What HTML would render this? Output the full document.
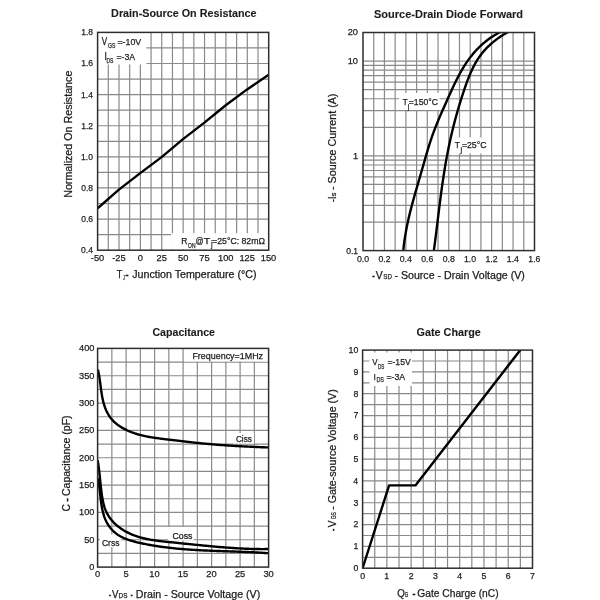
<!DOCTYPE html>
<html><head><meta charset="utf-8"><style>html,body{margin:0;padding:0;background:#fff;width:600px;height:600px;overflow:hidden}text{font-family:"Liberation Sans", sans-serif;stroke:#1c1c1c;stroke-width:0.25px}text[font-weight=bold]{stroke-width:0.1px}</style></head>
<body><svg width="600" height="600" viewBox="0 0 600 600" style="display:block;filter:blur(0.35px);font-family:'Liberation Sans', sans-serif" fill="#1c1c1c"><path stroke="#8a8a8a" stroke-width="1.2" fill="none" d="M108.29 32.4V250.2M118.99 32.4V250.2M129.68 32.4V250.2M140.38 32.4V250.2M151.07 32.4V250.2M161.76 32.4V250.2M172.46 32.4V250.2M183.15 32.4V250.2M193.84 32.4V250.2M204.54 32.4V250.2M215.23 32.4V250.2M225.92 32.4V250.2M236.62 32.4V250.2M247.31 32.4V250.2M258.01 32.4V250.2M97.6 47.96H268.7M97.6 63.51H268.7M97.6 79.07H268.7M97.6 94.63H268.7M97.6 110.19H268.7M97.6 125.74H268.7M97.6 141.30H268.7M97.6 156.86H268.7M97.6 172.41H268.7M97.6 187.97H268.7M97.6 203.53H268.7M97.6 219.09H268.7M97.6 234.64H268.7"/>
<rect x="98.3" y="33.1" width="48.20" height="31.40" fill="#fff"/>
<rect x="171.2" y="233.2" width="96.80" height="16.30" fill="#fff"/>
<clipPath id="c1"><rect x="97.6" y="32.4" width="171.1" height="217.79999999999998"/></clipPath>
<g clip-path="url(#c1)"><path fill="none" stroke="#000" stroke-width="2.4" stroke-linejoin="round" d="M97.60,208.30 L118.90,189.60 L140.25,173.10 L161.60,157.10 L183.00,139.10 L204.40,122.60 L225.75,105.20 L247.10,89.40 L268.70,74.80"/></g>
<rect x="97.6" y="32.4" width="171.10" height="217.80" fill="none" stroke="#2e2e2e" stroke-width="1.5"/>
<text x="111.13" y="17.20" font-size="10.6" font-weight="bold" textLength="145.39" lengthAdjust="spacingAndGlyphs">Drain-Source On Resistance</text>
<text x="81.03" y="253.10" font-size="9.7" font-weight="normal" textLength="11.87" lengthAdjust="spacingAndGlyphs">0.4</text>
<text x="81.16" y="221.99" font-size="9.7" font-weight="normal" textLength="11.87" lengthAdjust="spacingAndGlyphs">0.6</text>
<text x="81.15" y="190.87" font-size="9.7" font-weight="normal" textLength="11.87" lengthAdjust="spacingAndGlyphs">0.8</text>
<text x="81.12" y="159.76" font-size="9.7" font-weight="normal" textLength="11.87" lengthAdjust="spacingAndGlyphs">1.0</text>
<text x="81.21" y="128.64" font-size="9.7" font-weight="normal" textLength="11.87" lengthAdjust="spacingAndGlyphs">1.2</text>
<text x="81.03" y="97.53" font-size="9.7" font-weight="normal" textLength="11.87" lengthAdjust="spacingAndGlyphs">1.4</text>
<text x="81.16" y="66.41" font-size="9.7" font-weight="normal" textLength="11.87" lengthAdjust="spacingAndGlyphs">1.6</text>
<text x="81.15" y="35.30" font-size="9.7" font-weight="normal" textLength="11.87" lengthAdjust="spacingAndGlyphs">1.8</text>
<text x="90.85" y="260.90" font-size="9.8" font-weight="normal" textLength="13.46" lengthAdjust="spacingAndGlyphs">-50</text>
<text x="112.25" y="260.90" font-size="9.8" font-weight="normal" textLength="13.46" lengthAdjust="spacingAndGlyphs">-25</text>
<text x="137.79" y="260.90" font-size="9.8" font-weight="normal" textLength="5.18" lengthAdjust="spacingAndGlyphs">0</text>
<text x="156.55" y="260.90" font-size="9.8" font-weight="normal" textLength="10.36" lengthAdjust="spacingAndGlyphs">25</text>
<text x="177.97" y="260.90" font-size="9.8" font-weight="normal" textLength="10.36" lengthAdjust="spacingAndGlyphs">50</text>
<text x="199.32" y="260.90" font-size="9.8" font-weight="normal" textLength="10.36" lengthAdjust="spacingAndGlyphs">75</text>
<text x="217.99" y="260.90" font-size="9.8" font-weight="normal" textLength="15.53" lengthAdjust="spacingAndGlyphs">100</text>
<text x="239.39" y="260.90" font-size="9.8" font-weight="normal" textLength="15.53" lengthAdjust="spacingAndGlyphs">125</text>
<text x="260.76" y="260.90" font-size="9.8" font-weight="normal" textLength="15.53" lengthAdjust="spacingAndGlyphs">150</text>
<text transform="translate(71.70,196.95) rotate(-90)" x="-0.88" y="0" font-size="10.4" font-weight="normal" textLength="127.20" lengthAdjust="spacingAndGlyphs">Normalized On Resistance</text>
<text x="116.75" y="277.80" font-size="10.4" font-weight="normal" textLength="5.51" lengthAdjust="spacingAndGlyphs">T</text>
<text x="123.09" y="280.20" font-size="7" font-weight="normal" textLength="1.83" lengthAdjust="spacingAndGlyphs">J</text>
<text x="125.23" y="277.80" font-size="10.4" font-weight="bold" textLength="3.54" lengthAdjust="spacingAndGlyphs">-</text>
<text x="132.19" y="277.80" font-size="10.4" font-weight="normal" textLength="124.37" lengthAdjust="spacingAndGlyphs">Junction Temperature (°C)</text>
<text x="101.81" y="45.00" font-size="10" font-weight="normal" textLength="5.37" lengthAdjust="spacingAndGlyphs">V</text>
<text x="108.10" y="48.20" font-size="6.8" font-weight="normal" textLength="7.29" lengthAdjust="spacingAndGlyphs">GS</text>
<text x="117.42" y="45.00" font-size="9.8" font-weight="normal" textLength="23.77" lengthAdjust="spacingAndGlyphs">=-10V</text>
<text x="104.56" y="60.00" font-size="10.2" font-weight="normal" textLength="2.38" lengthAdjust="spacingAndGlyphs">I</text>
<text x="106.44" y="62.80" font-size="6.8" font-weight="normal" textLength="6.94" lengthAdjust="spacingAndGlyphs">DS</text>
<text x="116.42" y="60.00" font-size="9.8" font-weight="normal" textLength="18.74" lengthAdjust="spacingAndGlyphs">=-3A</text>
<text x="181.35" y="243.80" font-size="9.4" font-weight="normal" textLength="6.20" lengthAdjust="spacingAndGlyphs">R</text>
<text x="188.12" y="247.80" font-size="6.8" font-weight="normal" textLength="7.33" lengthAdjust="spacingAndGlyphs">ON</text>
<text x="195.52" y="243.80" font-size="9.4" font-weight="normal" textLength="8.12" lengthAdjust="spacingAndGlyphs">@</text>
<text x="203.86" y="243.80" font-size="9.4" font-weight="normal" textLength="6.43" lengthAdjust="spacingAndGlyphs">T</text>
<text x="210.93" y="246.60" font-size="9.4" font-weight="normal" textLength="1.61" lengthAdjust="spacingAndGlyphs">j</text>
<text x="212.12" y="243.80" font-size="9.4" font-weight="normal" textLength="52.90" lengthAdjust="spacingAndGlyphs">=25°C: 82mΩ</text>
<path stroke="#8a8a8a" stroke-width="1.2" fill="none" d="M373.72 32.5V250.6M384.44 32.5V250.6M395.16 32.5V250.6M405.88 32.5V250.6M416.59 32.5V250.6M427.31 32.5V250.6M438.03 32.5V250.6M448.75 32.5V250.6M459.47 32.5V250.6M470.19 32.5V250.6M480.91 32.5V250.6M491.62 32.5V250.6M502.34 32.5V250.6M513.06 32.5V250.6M523.78 32.5V250.6M363 222.07H534.5M363 205.38H534.5M363 193.53H534.5M363 184.35H534.5M363 176.84H534.5M363 170.50H534.5M363 165.00H534.5M363 160.15H534.5M363 155.82H534.5M363 127.28H534.5M363 110.59H534.5M363 98.75H534.5M363 89.57H534.5M363 82.06H534.5M363 75.71H534.5M363 70.22H534.5M363 65.37H534.5M363 61.03H534.5"/>
<rect x="399" y="93" width="40.50" height="17.00" fill="#fff"/>
<rect x="452" y="137.5" width="38.00" height="16.00" fill="#fff"/>
<clipPath id="c2"><rect x="363" y="32.5" width="171.5" height="218.1"/></clipPath>
<g clip-path="url(#c2)"><path fill="none" stroke="#000" stroke-width="2.4" stroke-linejoin="round" d="M403.34,250.21 L403.46,248.97 L403.59,247.72 L403.72,246.47 L403.86,245.23 L404.01,243.99 L404.17,242.75 L404.34,241.52 L404.51,240.28 L404.69,239.05 L404.87,237.82 L405.06,236.59 L405.26,235.36 L405.47,234.13 L405.68,232.91 L405.89,231.68 L406.12,230.46 L406.35,229.24 L406.58,228.02 L406.82,226.80 L407.07,225.58 L407.32,224.37 L407.58,223.15 L407.84,221.94 L408.10,220.73 L408.37,219.52 L408.65,218.31 L408.93,217.10 L409.21,215.89 L409.50,214.68 L409.79,213.48 L410.09,212.27 L410.39,211.07 L410.69,209.86 L411.00,208.66 L411.31,207.46 L411.63,206.26 L411.94,205.06 L412.26,203.86 L412.58,202.66 L412.91,201.46 L413.24,200.26 L413.57,199.07 L413.90,197.87 L414.23,196.67 L414.57,195.48 L414.91,194.28 L415.25,193.09 L415.59,191.89 L415.93,190.70 L416.27,189.50 L416.62,188.31 L416.96,187.12 L417.31,185.92 L417.66,184.73 L418.00,183.53 L418.35,182.34 L418.70,181.15 L419.05,179.95 L419.40,178.76 L419.75,177.57 L420.09,176.37 L420.44,175.18 L420.79,173.98 L421.13,172.79 L421.48,171.59 L421.82,170.40 L422.16,169.20 L422.51,168.01 L422.85,166.81 L423.19,165.61 L423.53,164.42 L423.87,163.22 L424.21,162.03 L424.55,160.83 L424.89,159.63 L425.23,158.44 L425.57,157.24 L425.92,156.05 L426.27,154.86 L426.61,153.67 L426.96,152.47 L427.32,151.28 L427.67,150.09 L428.03,148.91 L428.39,147.72 L428.76,146.53 L429.12,145.35 L429.50,144.17 L429.87,142.99 L430.25,141.81 L430.64,140.63 L431.03,139.46 L431.43,138.29 L431.83,137.12 L432.23,135.95 L432.65,134.78 L433.06,133.62 L433.49,132.46 L433.92,131.30 L434.35,130.14 L434.79,128.99 L435.24,127.84 L435.69,126.69 L436.15,125.54 L436.60,124.39 L437.07,123.24 L437.54,122.10 L438.01,120.96 L438.49,119.82 L438.97,118.68 L439.45,117.54 L439.93,116.40 L440.42,115.26 L440.92,114.13 L441.41,112.99 L441.91,111.85 L442.41,110.72 L442.91,109.58 L443.41,108.45 L443.92,107.31 L444.42,106.18 L444.93,105.05 L445.44,103.91 L445.95,102.77 L446.46,101.64 L446.97,100.50 L447.48,99.36 L447.99,98.22 L448.50,97.08 L449.01,95.95 L449.52,94.81 L450.04,93.67 L450.56,92.53 L451.07,91.39 L451.59,90.25 L452.12,89.12 L452.64,87.98 L453.17,86.85 L453.71,85.72 L454.24,84.59 L454.78,83.46 L455.33,82.34 L455.88,81.22 L456.43,80.10 L457.00,78.99 L457.56,77.88 L458.14,76.77 L458.71,75.67 L459.30,74.57 L459.89,73.48 L460.49,72.40 L461.10,71.31 L461.72,70.24 L462.34,69.17 L462.98,68.10 L463.62,67.05 L464.27,65.99 L464.93,64.95 L465.60,63.91 L466.28,62.88 L466.97,61.86 L467.67,60.85 L468.39,59.84 L469.11,58.84 L469.85,57.85 L470.59,56.87 L471.35,55.90 L472.13,54.94 L472.91,53.99 L473.71,53.05 L474.52,52.11 L475.35,51.19 L476.19,50.28 L477.04,49.38 L477.90,48.49 L478.77,47.62 L479.66,46.75 L480.56,45.90 L481.47,45.05 L482.40,44.22 L483.33,43.41 L484.28,42.60 L485.24,41.81 L486.21,41.03 L487.19,40.27 L488.19,39.52 L489.19,38.78 L490.21,38.05 L491.24,37.35 L492.28,36.65 L493.33,35.97 L494.39,35.31 L495.47,34.66 L496.55,34.02 L497.65,33.41 L498.75,32.80 L499.87,32.22 L501.00,31.65 L502.13,31.10"/><path fill="none" stroke="#000" stroke-width="2.4" stroke-linejoin="round" d="M433.93,250.17 L434.09,248.99 L434.25,247.80 L434.41,246.61 L434.56,245.42 L434.72,244.23 L434.87,243.04 L435.03,241.85 L435.18,240.66 L435.33,239.47 L435.49,238.28 L435.64,237.09 L435.79,235.89 L435.94,234.70 L436.09,233.51 L436.23,232.31 L436.38,231.12 L436.53,229.93 L436.68,228.73 L436.82,227.54 L436.97,226.34 L437.12,225.14 L437.26,223.95 L437.41,222.75 L437.56,221.55 L437.70,220.36 L437.85,219.16 L438.00,217.96 L438.14,216.77 L438.29,215.57 L438.44,214.37 L438.58,213.17 L438.73,211.98 L438.88,210.78 L439.03,209.58 L439.18,208.38 L439.33,207.19 L439.48,205.99 L439.63,204.79 L439.78,203.59 L439.93,202.39 L440.08,201.20 L440.24,200.00 L440.39,198.80 L440.55,197.60 L440.70,196.41 L440.86,195.21 L441.02,194.01 L441.18,192.82 L441.34,191.62 L441.50,190.42 L441.67,189.23 L441.83,188.03 L442.00,186.84 L442.17,185.64 L442.34,184.45 L442.51,183.25 L442.68,182.06 L442.85,180.87 L443.03,179.67 L443.21,178.48 L443.39,177.29 L443.57,176.10 L443.75,174.90 L443.94,173.71 L444.12,172.52 L444.31,171.33 L444.50,170.14 L444.70,168.96 L444.89,167.77 L445.09,166.58 L445.29,165.39 L445.49,164.21 L445.70,163.02 L445.90,161.84 L446.11,160.65 L446.33,159.47 L446.54,158.28 L446.76,157.10 L446.98,155.92 L447.20,154.74 L447.43,153.56 L447.66,152.38 L447.89,151.20 L448.12,150.03 L448.36,148.85 L448.60,147.67 L448.84,146.50 L449.09,145.32 L449.33,144.15 L449.58,142.98 L449.84,141.80 L450.09,140.63 L450.35,139.46 L450.62,138.29 L450.88,137.12 L451.15,135.95 L451.42,134.78 L451.69,133.61 L451.97,132.45 L452.25,131.28 L452.53,130.11 L452.82,128.95 L453.10,127.78 L453.39,126.62 L453.69,125.45 L453.99,124.29 L454.28,123.13 L454.59,121.96 L454.89,120.80 L455.20,119.64 L455.51,118.48 L455.83,117.32 L456.15,116.16 L456.47,115.00 L456.79,113.84 L457.12,112.68 L457.44,111.52 L457.78,110.37 L458.11,109.21 L458.45,108.05 L458.79,106.90 L459.14,105.74 L459.48,104.59 L459.83,103.43 L460.19,102.28 L460.54,101.12 L460.90,99.97 L461.27,98.81 L461.63,97.66 L462.00,96.51 L462.37,95.36 L462.75,94.20 L463.13,93.05 L463.51,91.90 L463.89,90.75 L464.28,89.60 L464.67,88.45 L465.07,87.30 L465.47,86.15 L465.87,85.00 L466.28,83.86 L466.69,82.71 L467.11,81.57 L467.54,80.44 L467.97,79.30 L468.41,78.17 L468.85,77.05 L469.31,75.93 L469.77,74.81 L470.25,73.70 L470.73,72.59 L471.22,71.49 L471.72,70.40 L472.23,69.31 L472.75,68.23 L473.29,67.15 L473.83,66.09 L474.39,65.03 L474.96,63.98 L475.54,62.94 L476.14,61.91 L476.75,60.89 L477.37,59.88 L478.01,58.88 L478.67,57.89 L479.34,56.91 L480.02,55.94 L480.73,54.98 L481.44,54.04 L482.18,53.11 L482.93,52.19 L483.70,51.28 L484.48,50.38 L485.28,49.50 L486.10,48.63 L486.92,47.77 L487.77,46.92 L488.62,46.08 L489.49,45.26 L490.38,44.45 L491.27,43.65 L492.18,42.86 L493.11,42.09 L494.04,41.32 L494.99,40.57 L495.95,39.83 L496.92,39.11 L497.90,38.39 L498.89,37.69 L499.89,37.00 L500.90,36.32 L501.92,35.65 L502.95,35.00 L503.99,34.35 L505.03,33.72 L506.09,33.10 L507.15,32.50 L508.23,31.90 L509.31,31.32"/></g>
<rect x="363" y="32.5" width="171.50" height="218.10" fill="none" stroke="#2e2e2e" stroke-width="1.5"/>
<text x="374.03" y="17.60" font-size="10.6" font-weight="bold" textLength="149.09" lengthAdjust="spacingAndGlyphs">Source-Drain Diode Forward</text>
<text x="346.20" y="253.50" font-size="9.7" font-weight="normal" textLength="11.87" lengthAdjust="spacingAndGlyphs">0.1</text>
<text x="352.98" y="158.72" font-size="9.7" font-weight="normal" textLength="5.12" lengthAdjust="spacingAndGlyphs">1</text>
<text x="347.76" y="63.93" font-size="9.7" font-weight="normal" textLength="10.25" lengthAdjust="spacingAndGlyphs">10</text>
<text x="347.76" y="35.40" font-size="9.7" font-weight="normal" textLength="10.25" lengthAdjust="spacingAndGlyphs">20</text>
<text x="356.94" y="262.20" font-size="9.9" font-weight="normal" textLength="12.11" lengthAdjust="spacingAndGlyphs">0.0</text>
<text x="378.43" y="262.20" font-size="9.9" font-weight="normal" textLength="12.11" lengthAdjust="spacingAndGlyphs">0.2</text>
<text x="399.78" y="262.20" font-size="9.9" font-weight="normal" textLength="12.11" lengthAdjust="spacingAndGlyphs">0.4</text>
<text x="421.28" y="262.20" font-size="9.9" font-weight="normal" textLength="12.11" lengthAdjust="spacingAndGlyphs">0.6</text>
<text x="442.71" y="262.20" font-size="9.9" font-weight="normal" textLength="12.11" lengthAdjust="spacingAndGlyphs">0.8</text>
<text x="463.97" y="262.20" font-size="9.9" font-weight="normal" textLength="12.11" lengthAdjust="spacingAndGlyphs">1.0</text>
<text x="485.46" y="262.20" font-size="9.9" font-weight="normal" textLength="12.11" lengthAdjust="spacingAndGlyphs">1.2</text>
<text x="506.80" y="262.20" font-size="9.9" font-weight="normal" textLength="12.11" lengthAdjust="spacingAndGlyphs">1.4</text>
<text x="528.30" y="262.20" font-size="9.9" font-weight="normal" textLength="12.11" lengthAdjust="spacingAndGlyphs">1.6</text>
<text transform="translate(336.30,201.85) rotate(-90)" x="-0.42" y="0" font-size="10.4" font-weight="normal" textLength="5.80" lengthAdjust="spacingAndGlyphs">-I</text>
<text transform="translate(336.30,196.25) rotate(-90)" x="-0.22" y="0" font-size="7.2" font-weight="normal" textLength="3.90" lengthAdjust="spacingAndGlyphs">s</text>
<text transform="translate(336.30,189.45) rotate(-90)" x="-0.48" y="0" font-size="10.4" font-weight="normal" textLength="96.34" lengthAdjust="spacingAndGlyphs">- Source Current (A)</text>
<text x="372.00" y="278.70" font-size="10.4" font-weight="bold" textLength="3.02" lengthAdjust="spacingAndGlyphs">-</text>
<text x="375.70" y="278.70" font-size="10.4" font-weight="normal" textLength="6.99" lengthAdjust="spacingAndGlyphs">V</text>
<text x="383.37" y="278.70" font-size="6.8" font-weight="normal" textLength="8.58" lengthAdjust="spacingAndGlyphs">SD</text>
<text x="394.48" y="278.70" font-size="10.4" font-weight="normal" textLength="130.32" lengthAdjust="spacingAndGlyphs">- Source - Drain Voltage (V)</text>
<text x="402.67" y="105.00" font-size="9.8" font-weight="normal" textLength="4.86" lengthAdjust="spacingAndGlyphs">T</text>
<text x="407.71" y="109.00" font-size="7" font-weight="normal" textLength="1.49" lengthAdjust="spacingAndGlyphs">j</text>
<text x="408.83" y="105.10" font-size="9.8" font-weight="normal" textLength="29.15" lengthAdjust="spacingAndGlyphs">=150°C</text>
<text x="454.86" y="148.10" font-size="9.9" font-weight="normal" textLength="5.19" lengthAdjust="spacingAndGlyphs">T</text>
<text x="460.53" y="152.20" font-size="7" font-weight="normal" textLength="1.61" lengthAdjust="spacingAndGlyphs">j</text>
<text x="461.92" y="148.10" font-size="9.9" font-weight="normal" textLength="24.56" lengthAdjust="spacingAndGlyphs">=25°C</text>
<path stroke="#8a8a8a" stroke-width="1.2" fill="none" d="M111.85 348.4V567.1M126.10 348.4V567.1M140.35 348.4V567.1M154.60 348.4V567.1M168.85 348.4V567.1M183.10 348.4V567.1M197.35 348.4V567.1M211.60 348.4V567.1M225.85 348.4V567.1M240.10 348.4V567.1M254.35 348.4V567.1M97.6 362.07H268.6M97.6 375.74H268.6M97.6 389.41H268.6M97.6 403.07H268.6M97.6 416.74H268.6M97.6 430.41H268.6M97.6 444.08H268.6M97.6 457.75H268.6M97.6 471.42H268.6M97.6 485.09H268.6M97.6 498.76H268.6M97.6 512.42H268.6M97.6 526.09H268.6M97.6 539.76H268.6M97.6 553.43H268.6"/>
<rect x="184" y="349.1" width="84.00" height="12.40" fill="#fff"/>
<rect x="100" y="534.5" width="21.00" height="12.50" fill="#fff"/>
<rect x="168" y="527" width="25.50" height="13.50" fill="#fff"/>
<rect x="233" y="433" width="21.00" height="10.50" fill="#fff"/>
<clipPath id="c3"><rect x="97.6" y="348.4" width="171.00000000000003" height="218.70000000000005"/></clipPath>
<g clip-path="url(#c3)"><path fill="none" stroke="#000" stroke-width="2.4" stroke-linejoin="round" d="M97.92,369.58 L98.15,370.60 L98.37,371.63 L98.58,372.66 L98.78,373.70 L98.97,374.74 L99.15,375.79 L99.32,376.84 L99.49,377.90 L99.65,378.96 L99.80,380.03 L99.95,381.09 L100.10,382.17 L100.24,383.24 L100.38,384.32 L100.52,385.40 L100.66,386.48 L100.81,387.56 L100.95,388.64 L101.10,389.73 L101.25,390.81 L101.41,391.90 L101.57,392.98 L101.74,394.07 L101.92,395.15 L102.10,396.23 L102.30,397.31 L102.52,398.38 L102.74,399.45 L102.98,400.51 L103.23,401.56 L103.50,402.62 L103.79,403.66 L104.10,404.69 L104.43,405.72 L104.78,406.74 L105.14,407.75 L105.53,408.74 L105.94,409.73 L106.37,410.70 L106.83,411.66 L107.30,412.60 L107.81,413.53 L108.33,414.45 L108.88,415.35 L109.45,416.23 L110.05,417.09 L110.67,417.93 L111.33,418.76 L112.00,419.56 L112.71,420.34 L113.44,421.11 L114.20,421.85 L114.98,422.56 L115.78,423.26 L116.60,423.94 L117.45,424.60 L118.31,425.24 L119.19,425.86 L120.09,426.46 L121.00,427.04 L121.93,427.60 L122.87,428.15 L123.81,428.67 L124.77,429.18 L125.74,429.67 L126.72,430.14 L127.70,430.60 L128.68,431.03 L129.68,431.46 L130.68,431.86 L131.68,432.25 L132.69,432.63 L133.70,432.99 L134.72,433.34 L135.75,433.67 L136.78,433.99 L137.81,434.30 L138.85,434.59 L139.89,434.88 L140.93,435.15 L141.98,435.41 L143.04,435.66 L144.09,435.90 L145.15,436.13 L146.21,436.35 L147.27,436.56 L148.34,436.77 L149.41,436.96 L150.48,437.15 L151.55,437.33 L152.63,437.51 L153.70,437.67 L154.78,437.84 L155.86,437.99 L156.94,438.14 L158.02,438.29 L159.10,438.43 L160.18,438.57 L161.26,438.71 L162.34,438.84 L163.42,438.98 L164.50,439.10 L165.58,439.23 L166.66,439.36 L167.73,439.49 L168.81,439.61 L169.89,439.74 L170.96,439.87 L172.03,439.99 L173.10,440.12 L174.17,440.25 L175.24,440.38 L176.31,440.50 L177.38,440.63 L178.44,440.76 L179.51,440.89 L180.57,441.01 L181.64,441.14 L182.70,441.26 L183.76,441.39 L184.83,441.51 L185.89,441.64 L186.95,441.76 L188.02,441.88 L189.08,442.01 L190.14,442.13 L191.20,442.25 L192.27,442.36 L193.33,442.48 L194.40,442.60 L195.46,442.71 L196.53,442.82 L197.59,442.94 L198.66,443.05 L199.73,443.15 L200.79,443.26 L201.86,443.37 L202.93,443.47 L204.00,443.57 L205.07,443.67 L206.15,443.77 L207.22,443.87 L208.29,443.96 L209.36,444.06 L210.44,444.15 L211.51,444.24 L212.59,444.33 L213.66,444.42 L214.74,444.51 L215.81,444.60 L216.89,444.68 L217.97,444.77 L219.04,444.85 L220.12,444.93 L221.20,445.01 L222.28,445.09 L223.35,445.17 L224.43,445.24 L225.51,445.32 L226.59,445.39 L227.67,445.46 L228.75,445.53 L229.83,445.60 L230.91,445.67 L231.99,445.74 L233.06,445.80 L234.14,445.87 L235.22,445.93 L236.30,446.00 L237.38,446.06 L238.46,446.12 L239.54,446.18 L240.62,446.24 L241.70,446.30 L242.78,446.35 L243.86,446.41 L244.94,446.46 L246.02,446.52 L247.09,446.57 L248.17,446.62 L249.25,446.67 L250.33,446.72 L251.40,446.77 L252.48,446.82 L253.56,446.87 L254.63,446.91 L255.71,446.96 L256.78,447.01 L257.86,447.05 L258.93,447.09 L260.01,447.13 L261.08,447.18 L262.15,447.22 L263.23,447.26 L264.30,447.30 L265.37,447.34 L266.44,447.37 L267.51,447.41 L268.58,447.45"/><path fill="none" stroke="#000" stroke-width="2.4" stroke-linejoin="round" d="M97.68,460.29 L97.86,461.38 L98.04,462.47 L98.21,463.57 L98.37,464.67 L98.52,465.77 L98.67,466.87 L98.81,467.98 L98.95,469.09 L99.09,470.20 L99.22,471.31 L99.35,472.43 L99.47,473.55 L99.59,474.67 L99.71,475.80 L99.83,476.92 L99.95,478.05 L100.07,479.19 L100.18,480.32 L100.30,481.46 L100.42,482.60 L100.54,483.74 L100.66,484.88 L100.78,486.03 L100.90,487.17 L101.03,488.32 L101.16,489.47 L101.30,490.63 L101.44,491.78 L101.59,492.94 L101.74,494.09 L101.90,495.25 L102.07,496.40 L102.26,497.55 L102.45,498.69 L102.66,499.83 L102.89,500.96 L103.13,502.09 L103.39,503.20 L103.67,504.31 L103.97,505.41 L104.29,506.49 L104.63,507.57 L104.99,508.63 L105.39,509.68 L105.81,510.71 L106.25,511.72 L106.73,512.72 L107.23,513.71 L107.77,514.67 L108.33,515.62 L108.92,516.55 L109.54,517.46 L110.19,518.35 L110.86,519.22 L111.55,520.08 L112.27,520.92 L113.02,521.74 L113.78,522.55 L114.57,523.33 L115.37,524.10 L116.20,524.85 L117.05,525.58 L117.91,526.29 L118.80,526.99 L119.70,527.66 L120.61,528.32 L121.55,528.96 L122.49,529.58 L123.45,530.19 L124.43,530.77 L125.41,531.34 L126.41,531.89 L127.42,532.42 L128.44,532.93 L129.47,533.42 L130.50,533.90 L131.55,534.35 L132.60,534.79 L133.65,535.21 L134.72,535.61 L135.79,535.99 L136.86,536.36 L137.94,536.71 L139.02,537.04 L140.11,537.36 L141.20,537.66 L142.30,537.95 L143.40,538.23 L144.51,538.49 L145.61,538.74 L146.73,538.98 L147.84,539.20 L148.96,539.42 L150.08,539.62 L151.20,539.82 L152.33,540.00 L153.45,540.18 L154.58,540.35 L155.71,540.51 L156.84,540.67 L157.98,540.82 L159.11,540.96 L160.25,541.10 L161.38,541.23 L162.51,541.36 L163.65,541.48 L164.78,541.61 L165.92,541.73 L167.05,541.85 L168.18,541.96 L169.32,542.08 L170.45,542.20 L171.58,542.31 L172.70,542.43 L173.83,542.54 L174.96,542.66 L176.08,542.77 L177.21,542.89 L178.33,543.00 L179.45,543.12 L180.57,543.23 L181.69,543.35 L182.82,543.46 L183.94,543.58 L185.06,543.69 L186.18,543.80 L187.30,543.92 L188.42,544.03 L189.54,544.14 L190.66,544.25 L191.78,544.37 L192.90,544.48 L194.02,544.59 L195.14,544.70 L196.26,544.82 L197.38,544.93 L198.50,545.04 L199.63,545.15 L200.75,545.26 L201.88,545.37 L203.00,545.48 L204.13,545.59 L205.25,545.70 L206.38,545.81 L207.50,545.91 L208.63,546.02 L209.76,546.13 L210.89,546.23 L212.01,546.33 L213.14,546.44 L214.27,546.54 L215.40,546.64 L216.53,546.74 L217.66,546.84 L218.79,546.94 L219.92,547.03 L221.05,547.13 L222.19,547.22 L223.32,547.31 L224.45,547.40 L225.58,547.49 L226.71,547.58 L227.85,547.66 L228.98,547.74 L230.11,547.82 L231.24,547.90 L232.38,547.98 L233.51,548.06 L234.64,548.13 L235.77,548.20 L236.91,548.27 L238.04,548.33 L239.17,548.40 L240.31,548.46 L241.44,548.52 L242.57,548.57 L243.71,548.63 L244.84,548.68 L245.97,548.73 L247.10,548.77 L248.24,548.82 L249.37,548.86 L250.50,548.89 L251.63,548.93 L252.77,548.96 L253.90,548.98 L255.03,549.01 L256.16,549.03 L257.29,549.05 L258.42,549.06 L259.55,549.07 L260.68,549.08 L261.81,549.08 L262.94,549.08 L264.07,549.08 L265.20,549.07 L266.33,549.06 L267.46,549.05 L268.58,549.03"/><path fill="none" stroke="#000" stroke-width="2.4" stroke-linejoin="round" d="M97.74,478.32 L97.97,479.32 L98.19,480.33 L98.40,481.35 L98.59,482.38 L98.77,483.42 L98.93,484.46 L99.09,485.51 L99.24,486.56 L99.38,487.63 L99.52,488.69 L99.65,489.76 L99.77,490.84 L99.89,491.92 L100.01,493.00 L100.13,494.09 L100.25,495.18 L100.37,496.28 L100.49,497.37 L100.62,498.47 L100.75,499.57 L100.88,500.67 L101.02,501.77 L101.17,502.87 L101.33,503.97 L101.50,505.07 L101.68,506.17 L101.87,507.26 L102.08,508.34 L102.30,509.43 L102.53,510.50 L102.78,511.57 L103.05,512.63 L103.34,513.69 L103.64,514.73 L103.97,515.76 L104.32,516.79 L104.69,517.80 L105.08,518.80 L105.50,519.78 L105.95,520.75 L106.42,521.71 L106.92,522.65 L107.45,523.57 L108.00,524.48 L108.57,525.37 L109.17,526.24 L109.80,527.09 L110.45,527.92 L111.12,528.73 L111.81,529.52 L112.53,530.29 L113.27,531.03 L114.03,531.75 L114.81,532.44 L115.62,533.11 L116.44,533.75 L117.29,534.37 L118.15,534.96 L119.03,535.52 L119.94,536.06 L120.85,536.57 L121.79,537.06 L122.74,537.53 L123.70,537.98 L124.68,538.40 L125.67,538.81 L126.67,539.20 L127.68,539.57 L128.71,539.93 L129.74,540.27 L130.78,540.59 L131.83,540.91 L132.88,541.21 L133.94,541.49 L135.01,541.77 L136.08,542.04 L137.15,542.30 L138.23,542.55 L139.30,542.79 L140.38,543.03 L141.46,543.27 L142.54,543.49 L143.61,543.72 L144.69,543.94 L145.77,544.15 L146.84,544.36 L147.92,544.57 L149.00,544.77 L150.07,544.96 L151.15,545.15 L152.23,545.34 L153.30,545.52 L154.38,545.70 L155.45,545.88 L156.53,546.05 L157.61,546.22 L158.68,546.38 L159.76,546.54 L160.83,546.69 L161.91,546.84 L162.98,546.99 L164.06,547.13 L165.13,547.27 L166.21,547.41 L167.28,547.54 L168.36,547.67 L169.43,547.80 L170.51,547.92 L171.58,548.04 L172.66,548.16 L173.73,548.27 L174.81,548.38 L175.88,548.49 L176.96,548.59 L178.03,548.69 L179.11,548.79 L180.18,548.89 L181.26,548.98 L182.33,549.07 L183.41,549.16 L184.48,549.25 L185.56,549.33 L186.63,549.41 L187.71,549.49 L188.78,549.57 L189.86,549.64 L190.93,549.71 L192.01,549.78 L193.08,549.85 L194.16,549.91 L195.23,549.98 L196.31,550.04 L197.38,550.10 L198.46,550.16 L199.53,550.22 L200.61,550.27 L201.68,550.33 L202.76,550.38 L203.83,550.43 L204.91,550.48 L205.99,550.53 L207.06,550.57 L208.14,550.62 L209.21,550.67 L210.29,550.71 L211.37,550.75 L212.44,550.79 L213.52,550.84 L214.59,550.88 L215.67,550.92 L216.75,550.95 L217.82,550.99 L218.90,551.03 L219.98,551.07 L221.06,551.11 L222.13,551.14 L223.21,551.18 L224.29,551.21 L225.37,551.25 L226.44,551.29 L227.52,551.32 L228.60,551.36 L229.68,551.39 L230.76,551.43 L231.84,551.46 L232.91,551.50 L233.99,551.54 L235.07,551.57 L236.15,551.61 L237.23,551.65 L238.31,551.69 L239.39,551.73 L240.47,551.77 L241.55,551.81 L242.63,551.85 L243.71,551.89 L244.80,551.93 L245.88,551.98 L246.96,552.02 L248.04,552.07 L249.12,552.12 L250.20,552.17 L251.29,552.22 L252.37,552.27 L253.45,552.32 L254.54,552.37 L255.62,552.43 L256.70,552.49 L257.79,552.55 L258.87,552.61 L259.96,552.67 L261.04,552.73 L262.13,552.80 L263.21,552.87 L264.30,552.94 L265.38,553.01 L266.47,553.08 L267.56,553.16 L268.64,553.24"/></g>
<rect x="97.6" y="348.4" width="171.00" height="218.70" fill="none" stroke="#2e2e2e" stroke-width="1.5"/>
<text x="152.41" y="335.80" font-size="10.6" font-weight="bold" textLength="62.60" lengthAdjust="spacingAndGlyphs">Capacitance</text>
<text x="89.29" y="570.00" font-size="9.7" font-weight="normal" textLength="5.12" lengthAdjust="spacingAndGlyphs">0</text>
<text x="84.16" y="542.66" font-size="9.7" font-weight="normal" textLength="10.25" lengthAdjust="spacingAndGlyphs">50</text>
<text x="79.04" y="515.32" font-size="9.7" font-weight="normal" textLength="15.37" lengthAdjust="spacingAndGlyphs">100</text>
<text x="79.04" y="487.99" font-size="9.7" font-weight="normal" textLength="15.37" lengthAdjust="spacingAndGlyphs">150</text>
<text x="79.04" y="460.65" font-size="9.7" font-weight="normal" textLength="15.37" lengthAdjust="spacingAndGlyphs">200</text>
<text x="79.04" y="433.31" font-size="9.7" font-weight="normal" textLength="15.37" lengthAdjust="spacingAndGlyphs">250</text>
<text x="79.04" y="405.97" font-size="9.7" font-weight="normal" textLength="15.37" lengthAdjust="spacingAndGlyphs">300</text>
<text x="79.04" y="378.64" font-size="9.7" font-weight="normal" textLength="15.37" lengthAdjust="spacingAndGlyphs">350</text>
<text x="79.04" y="351.30" font-size="9.7" font-weight="normal" textLength="15.37" lengthAdjust="spacingAndGlyphs">400</text>
<text x="95.01" y="577.10" font-size="9.8" font-weight="normal" textLength="5.18" lengthAdjust="spacingAndGlyphs">0</text>
<text x="123.52" y="577.10" font-size="9.8" font-weight="normal" textLength="5.18" lengthAdjust="spacingAndGlyphs">5</text>
<text x="149.25" y="577.10" font-size="9.8" font-weight="normal" textLength="10.36" lengthAdjust="spacingAndGlyphs">10</text>
<text x="177.76" y="577.10" font-size="9.8" font-weight="normal" textLength="10.36" lengthAdjust="spacingAndGlyphs">15</text>
<text x="206.37" y="577.10" font-size="9.8" font-weight="normal" textLength="10.36" lengthAdjust="spacingAndGlyphs">20</text>
<text x="234.88" y="577.10" font-size="9.8" font-weight="normal" textLength="10.36" lengthAdjust="spacingAndGlyphs">25</text>
<text x="263.43" y="577.10" font-size="9.8" font-weight="normal" textLength="10.36" lengthAdjust="spacingAndGlyphs">30</text>
<text transform="translate(69.80,510.95) rotate(-90)" x="-0.52" y="0" font-size="10.2" font-weight="normal" textLength="7.41" lengthAdjust="spacingAndGlyphs">C</text>
<text transform="translate(69.80,501.55) rotate(-90)" x="-0.48" y="0" font-size="10.2" font-weight="bold" textLength="4.07" lengthAdjust="spacingAndGlyphs">-</text>
<text transform="translate(69.80,495.55) rotate(-90)" x="-0.53" y="0" font-size="10.2" font-weight="normal" textLength="80.69" lengthAdjust="spacingAndGlyphs">Capacitance (pF)</text>
<text x="108.82" y="597.90" font-size="10.4" font-weight="bold" textLength="2.36" lengthAdjust="spacingAndGlyphs">-</text>
<text x="112.01" y="597.90" font-size="10.4" font-weight="normal" textLength="6.43" lengthAdjust="spacingAndGlyphs">V</text>
<text x="118.58" y="597.90" font-size="6.8" font-weight="normal" textLength="8.87" lengthAdjust="spacingAndGlyphs">DS</text>
<text x="130.47" y="597.90" font-size="10.4" font-weight="bold" textLength="2.36" lengthAdjust="spacingAndGlyphs">-</text>
<text x="135.73" y="597.90" font-size="10.4" font-weight="normal" textLength="124.58" lengthAdjust="spacingAndGlyphs">Drain - Source Voltage (V)</text>
<text x="192.42" y="359.30" font-size="9.6" font-weight="normal" textLength="70.68" lengthAdjust="spacingAndGlyphs">Frequency=1MHz</text>
<text x="235.93" y="442.00" font-size="9.2" font-weight="normal" textLength="16.02" lengthAdjust="spacingAndGlyphs">Ciss</text>
<text x="101.92" y="546.00" font-size="9.2" font-weight="normal" textLength="17.54" lengthAdjust="spacingAndGlyphs">Crss</text>
<text x="172.40" y="539.00" font-size="9.2" font-weight="normal" textLength="20.07" lengthAdjust="spacingAndGlyphs">Coss</text>
<path stroke="#8a8a8a" stroke-width="1.2" fill="none" d="M374.74 350.1V568.2M386.87 350.1V568.2M399.01 350.1V568.2M411.14 350.1V568.2M423.28 350.1V568.2M435.41 350.1V568.2M447.55 350.1V568.2M459.69 350.1V568.2M471.82 350.1V568.2M483.96 350.1V568.2M496.09 350.1V568.2M508.23 350.1V568.2M520.36 350.1V568.2M362.6 361.00H532.5M362.6 371.91H532.5M362.6 382.82H532.5M362.6 393.72H532.5M362.6 404.62H532.5M362.6 415.53H532.5M362.6 426.44H532.5M362.6 437.34H532.5M362.6 448.25H532.5M362.6 459.15H532.5M362.6 470.06H532.5M362.6 480.96H532.5M362.6 491.87H532.5M362.6 502.77H532.5M362.6 513.68H532.5M362.6 524.58H532.5M362.6 535.49H532.5M362.6 546.39H532.5M362.6 557.30H532.5"/>
<rect x="369.5" y="352.5" width="42.50" height="33.50" fill="#fff"/>
<clipPath id="c4"><rect x="362.6" y="350.1" width="169.89999999999998" height="218.10000000000002"/></clipPath>
<g clip-path="url(#c4)"><path fill="none" stroke="#000" stroke-width="2.4" stroke-linejoin="round" d="M362.60,568.20 L389.10,485.40 L415.40,485.40 L520.00,350.40 L522.00,347.80"/></g>
<rect x="362.6" y="350.1" width="169.90" height="218.10" fill="none" stroke="#2e2e2e" stroke-width="1.5"/>
<text x="416.61" y="335.80" font-size="10.6" font-weight="bold" textLength="64.21" lengthAdjust="spacingAndGlyphs">Gate Charge</text>
<text x="353.43" y="571.00" font-size="9.2" font-weight="normal" textLength="4.86" lengthAdjust="spacingAndGlyphs">0</text>
<text x="353.52" y="549.19" font-size="9.2" font-weight="normal" textLength="4.86" lengthAdjust="spacingAndGlyphs">1</text>
<text x="353.53" y="527.38" font-size="9.2" font-weight="normal" textLength="4.86" lengthAdjust="spacingAndGlyphs">2</text>
<text x="353.47" y="505.57" font-size="9.2" font-weight="normal" textLength="4.86" lengthAdjust="spacingAndGlyphs">3</text>
<text x="353.35" y="483.76" font-size="9.2" font-weight="normal" textLength="4.86" lengthAdjust="spacingAndGlyphs">4</text>
<text x="353.46" y="461.95" font-size="9.2" font-weight="normal" textLength="4.86" lengthAdjust="spacingAndGlyphs">5</text>
<text x="353.47" y="440.14" font-size="9.2" font-weight="normal" textLength="4.86" lengthAdjust="spacingAndGlyphs">6</text>
<text x="353.53" y="418.33" font-size="9.2" font-weight="normal" textLength="4.86" lengthAdjust="spacingAndGlyphs">7</text>
<text x="353.47" y="396.52" font-size="9.2" font-weight="normal" textLength="4.86" lengthAdjust="spacingAndGlyphs">8</text>
<text x="353.50" y="374.71" font-size="9.2" font-weight="normal" textLength="4.86" lengthAdjust="spacingAndGlyphs">9</text>
<text x="348.57" y="352.90" font-size="9.2" font-weight="normal" textLength="9.72" lengthAdjust="spacingAndGlyphs">10</text>
<text x="360.17" y="578.70" font-size="9.2" font-weight="normal" textLength="4.86" lengthAdjust="spacingAndGlyphs">0</text>
<text x="384.32" y="578.70" font-size="9.2" font-weight="normal" textLength="4.86" lengthAdjust="spacingAndGlyphs">1</text>
<text x="408.71" y="578.70" font-size="9.2" font-weight="normal" textLength="4.86" lengthAdjust="spacingAndGlyphs">2</text>
<text x="433.01" y="578.70" font-size="9.2" font-weight="normal" textLength="4.86" lengthAdjust="spacingAndGlyphs">3</text>
<text x="457.28" y="578.70" font-size="9.2" font-weight="normal" textLength="4.86" lengthAdjust="spacingAndGlyphs">4</text>
<text x="481.54" y="578.70" font-size="9.2" font-weight="normal" textLength="4.86" lengthAdjust="spacingAndGlyphs">5</text>
<text x="505.77" y="578.70" font-size="9.2" font-weight="normal" textLength="4.86" lengthAdjust="spacingAndGlyphs">6</text>
<text x="530.07" y="578.70" font-size="9.2" font-weight="normal" textLength="4.86" lengthAdjust="spacingAndGlyphs">7</text>
<text transform="translate(336.00,530.95) rotate(-90)" x="-0.32" y="0" font-size="10.4" font-weight="bold" textLength="2.75" lengthAdjust="spacingAndGlyphs">-</text>
<text transform="translate(336.00,527.25) rotate(-90)" x="-0.04" y="0" font-size="10.4" font-weight="normal" textLength="6.69" lengthAdjust="spacingAndGlyphs">V</text>
<text transform="translate(336.00,518.95) rotate(-90)" x="-0.25" y="0" font-size="6.6" font-weight="normal" textLength="7.07" lengthAdjust="spacingAndGlyphs">GS</text>
<text transform="translate(336.00,509.35) rotate(-90)" x="-0.47" y="0" font-size="10.4" font-weight="normal" textLength="120.53" lengthAdjust="spacingAndGlyphs">- Gate-source Voltage (V)</text>
<text x="397.19" y="597.30" font-size="10.4" font-weight="normal" textLength="7.63" lengthAdjust="spacingAndGlyphs">Q</text>
<text x="404.83" y="597.30" font-size="6.8" font-weight="normal" textLength="3.46" lengthAdjust="spacingAndGlyphs">G</text>
<text x="412.35" y="597.30" font-size="10.4" font-weight="bold" textLength="3.41" lengthAdjust="spacingAndGlyphs">-</text>
<text x="417.34" y="597.30" font-size="10.4" font-weight="normal" textLength="81.25" lengthAdjust="spacingAndGlyphs">Gate Charge (nC)</text>
<text x="372.31" y="365.00" font-size="9.8" font-weight="normal" textLength="5.37" lengthAdjust="spacingAndGlyphs">V</text>
<text x="377.97" y="368.70" font-size="6.8" font-weight="normal" textLength="6.39" lengthAdjust="spacingAndGlyphs">DS</text>
<text x="387.43" y="365.00" font-size="9.6" font-weight="normal" textLength="23.26" lengthAdjust="spacingAndGlyphs">=-15V</text>
<text x="373.56" y="380.30" font-size="9.8" font-weight="normal" textLength="2.38" lengthAdjust="spacingAndGlyphs">I</text>
<text x="376.41" y="382.30" font-size="6.8" font-weight="normal" textLength="7.49" lengthAdjust="spacingAndGlyphs">DS</text>
<text x="386.42" y="380.30" font-size="9.6" font-weight="normal" textLength="18.74" lengthAdjust="spacingAndGlyphs">=-3A</text></svg></body></html>
